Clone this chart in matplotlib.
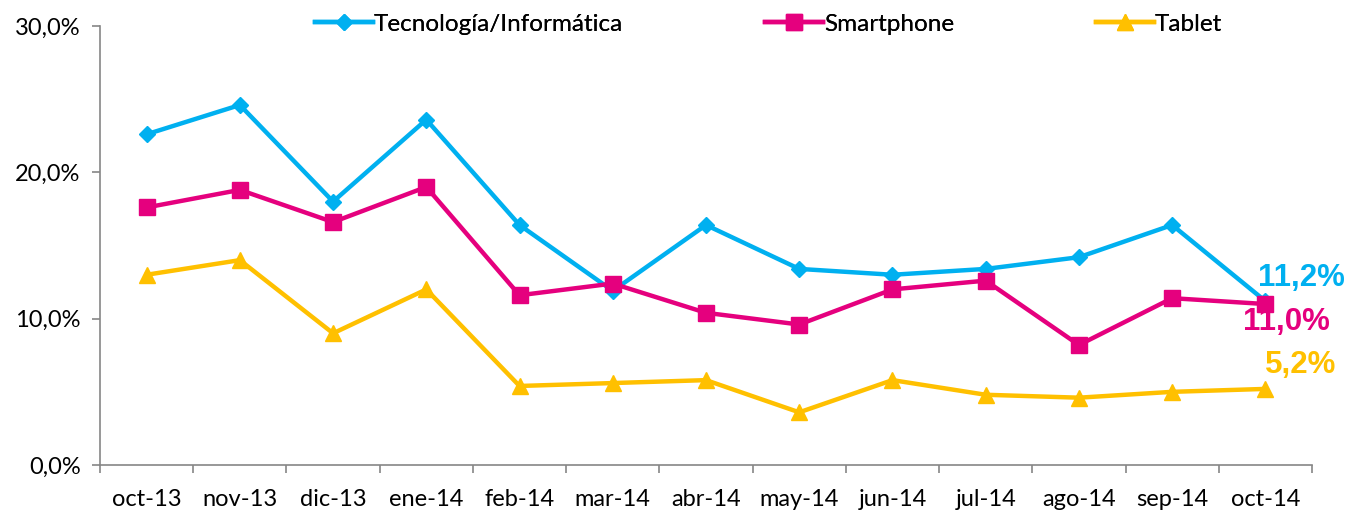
import matplotlib
matplotlib.use("Agg")
import matplotlib.pyplot as plt
from matplotlib.ticker import FuncFormatter, FixedLocator

categories = ["oct-13", "nov-13", "dic-13", "ene-14", "feb-14", "mar-14", "abr-14",
              "may-14", "jun-14", "jul-14", "ago-14", "sep-14", "oct-14"]
tecnologia = [22.6, 24.6, 18.0, 23.6, 16.4, 11.9, 16.4, 13.4, 13.0, 13.4, 14.2, 16.4, 11.2]
smartphone = [17.6, 18.8, 16.6, 19.0, 11.6, 12.4, 10.4, 9.6, 12.0, 12.6, 8.2, 11.4, 11.0]
tablet = [13.0, 14.0, 9.0, 12.0, 5.4, 5.6, 5.8, 3.6, 5.8, 4.8, 4.6, 5.0, 5.2]
series_names = ["Tecnología/Informática", "Smartphone", "Tablet"]
end_labels = ["11,2%", "11,0%", "5,2%"]

plt.rcParams['font.family'] = ['Lato', 'DejaVu Sans']

W, H = 1351, 512
fig = plt.figure(figsize=(W / 100, H / 100), dpi=100)
ax = fig.add_axes([100/W, 1-465/H, 1212/W, 439/H])

x = list(range(len(categories)))
c_blue, c_mag, c_yel = "#00B0F0", "#E5007E", "#FFC000"
l1, = ax.plot(x, tecnologia, color=c_blue, lw=3.2, marker="D", ms=8, label=series_names[0], zorder=3)
l2, = ax.plot(x, smartphone, color=c_mag, lw=3.2, marker="s", ms=11, label=series_names[1], zorder=4)
l3, = ax.plot(x, tablet, color=c_yel, lw=3.2, marker="^", ms=11, label=series_names[2], zorder=3)

ax.set_xlim(-0.5, len(categories) - 0.5)
ax.set_ylim(0, 30)
ax.set_yticks([0, 10, 20, 30])
ax.yaxis.set_major_formatter(FuncFormatter(lambda v, p: f"{v:.1f}%".replace(".", ",")))
ax.set_xticks(x)
ax.set_xticklabels(categories)
ax.xaxis.set_minor_locator(FixedLocator([i - 0.5 for i in range(len(categories) + 1)]))
ax.tick_params(axis="x", which="major", length=0, labelsize=17, pad=17)
ax.tick_params(axis="x", which="minor", length=6, color="#868686", width=1.2, direction="out")
ax.tick_params(axis="y", length=6, color="#868686", width=1.2, labelsize=17, pad=8)
for s in ["top", "right"]:
    ax.spines[s].set_visible(False)
for s in ["left", "bottom"]:
    ax.spines[s].set_color("#868686")
    ax.spines[s].set_linewidth(1.2)

last = len(categories) - 1
ax.annotate(end_labels[0], (last, tecnologia[-1]), xytext=(-7, 23), textcoords="offset pixels",
            color=c_blue, fontsize=22.5, fontweight="bold", ha="left", va="center",
            family="Liberation Sans")
ax.annotate(end_labels[1], (last, smartphone[-1]), xytext=(-22, -18), textcoords="offset pixels",
            color=c_mag, fontsize=22.5, fontweight="bold", ha="left", va="center",
            family="Liberation Sans")
ax.annotate(end_labels[2], (last, tablet[-1]), xytext=(0, 24), textcoords="offset pixels",
            color=c_yel, fontsize=22.5, fontweight="bold", ha="left", va="center",
            family="Liberation Sans")

legend_x = [315, 765, 1096]
for h, lx in zip([l1, l2, l3], legend_x):
    lg = fig.legend(handles=[h], loc="center left", bbox_to_anchor=(lx / W, 1 - 24 / H),
                    frameon=False, fontsize=17.5, handlelength=2.4, handletextpad=0.02,
                    borderpad=0, borderaxespad=0)
    fig.add_artist(lg)

fig.savefig("out.png", dpi=100)
